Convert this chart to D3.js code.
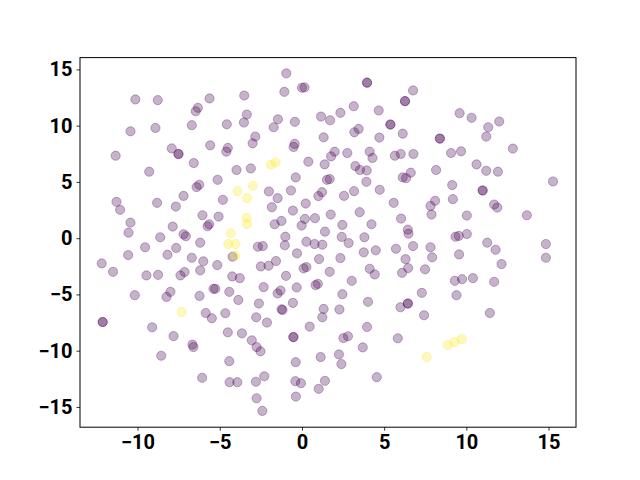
<!DOCTYPE html>
<html><head><meta charset="utf-8">
<script src="https://cdn.jsdelivr.net/npm/d3@7"></script>
<style>body{margin:0;background:#fff}svg{display:block}</style>
</head><body>
<script>
// Class 0 (purple) points: [x, y]
const purplePoints = [
[-10.13,12.33],[-8.77,12.27],[-5.62,12.42],[-3.51,12.68],[-6.33,11.59],[-6.46,11.28],[-3.35,10.99],
[-10.43,9.50],[-8.91,9.80],[-6.70,10.04],[-4.57,10.12],[-3.53,10.28],[-11.33,7.33],[-7.92,7.98],
[-7.51,7.48],[-7.51,7.48],[-5.58,8.25],[-4.51,8.02],[-4.60,7.69],[-3.00,8.43],[-6.58,6.68],[-9.29,5.91],
[-3.98,6.06],[-3.11,6.20],[-5.13,5.19],[-6.25,4.75],[-6.41,4.54],[-11.28,3.23],[-11.06,2.52],[-8.81,3.14],
[-7.67,2.81],[-7.20,3.76],[-4.81,3.41],[-10.43,1.38],[-10.55,0.49],[-7.86,1.03],[-6.05,2.04],[-5.64,1.24],
[-5.74,1.06],[-5.07,1.92],[-7.20,0.35],[-7.06,0.17],[-8.62,0.08],[-6.19,-0.40],[-9.54,-0.81],
[-0.95,14.65],[-1.07,13.01],[0.00,13.37],[0.16,13.40],[3.96,13.82],[3.96,13.82],[6.76,13.13],
[6.27,12.18],[6.27,12.18],[3.15,11.73],[4.67,11.35],[2.34,11.14],[1.16,10.81],[1.71,10.48],[-1.46,10.57],
[-0.43,10.34],[-1.72,9.86],[5.38,10.10],[5.38,10.10],[3.45,9.71],[3.19,9.41],[6.13,9.29],[-2.84,9.03],
[1.32,8.96],[4.71,8.94],[-0.44,8.38],[-0.51,8.11],[1.99,7.69],[1.77,7.27],[2.76,7.57],[4.12,7.69],
[4.29,7.13],[5.65,7.33],[6.01,7.48],[6.78,7.48],[0.39,6.80],[1.38,6.56],[3.25,6.41],[3.53,6.06],
[3.94,6.02],[-0.38,5.40],[1.52,5.19],[1.69,5.25],[3.92,5.01],[6.13,5.40],[6.33,5.34],[6.62,5.82],
[-2.01,4.15],[-1.48,3.56],[-0.67,4.24],[1.00,3.74],[1.22,4.09],[2.56,3.76],[3.17,4.18],[4.73,4.30],
[0.23,3.08],[5.58,3.14],[-1.83,2.76],[-0.55,2.45],[1.75,2.10],[3.51,2.31],[-1.25,1.53],[-1.66,1.24],
[0.18,1.71],[-0.02,1.12],[0.79,1.78],[2.46,1.18],[4.23,1.24],[6.03,1.74],[6.44,0.76],[6.48,0.40],
[-1.01,0.13],[1.40,0.58],[2.42,0.11],[3.80,0.08],
[9.59,11.11],[10.32,10.70],[11.33,9.86],[12.00,10.37],[11.21,9.03],[8.39,8.85],[8.39,8.85],[9.07,7.57],
[9.68,7.72],[12.83,7.96],[10.62,6.56],[11.21,5.99],[11.92,5.91],[8.16,6.06],[15.27,5.04],[9.14,4.72],
[10.99,4.24],[10.99,4.24],[9.18,3.47],[11.69,2.99],[11.88,2.72],[7.82,2.87],[8.10,3.32],[7.88,2.10],
[10.03,2.01],[13.68,2.04],[9.34,0.13],[9.54,0.20],[10.03,0.37],
[-4.22,-1.65],[-12.18,-2.24],[-11.49,-2.99],[-10.57,-1.50],[-8.18,-1.47],[-7.65,-0.87],[-6.70,-1.74],
[-6.00,-2.06],[-5.15,-2.39],[-9.46,-3.31],[-8.75,-3.26],[-7.39,-3.31],[-7.14,-3.01],[-6.19,-2.86],
[-4.24,-3.40],[-3.78,-3.55],[-10.17,-5.07],[-8.00,-4.77],[-8.24,-5.22],[-6.23,-5.13],[-5.38,-4.50],
[-5.27,-4.50],[-4.42,-4.77],[-3.87,-5.49],[-5.85,-6.65],[-5.48,-7.12],[-4.66,-6.67],[-12.12,-7.45],
[-12.12,-7.45],[-9.11,-7.92],[-7.81,-8.70],[-6.66,-9.46],[-6.60,-9.68],[-4.51,-8.37],[-3.65,-8.46],
[-8.56,-10.45],[-4.42,-10.93],[-6.07,-12.41],[-4.40,-12.80],[-3.93,-12.80],
[-2.68,-0.76],[-2.38,-0.70],[-1.04,-0.63],[-0.30,-1.35],[0.27,-0.31],[0.77,-0.52],[1.24,-0.58],
[2.84,-0.43],[3.76,-1.26],[4.49,-1.08],[5.72,-0.94],[6.76,-0.70],[-2.50,-2.51],[-2.03,-2.45],
[-1.58,-2.03],[-0.97,-3.35],[0.10,-2.68],[0.27,-2.57],[1.04,-1.86],[1.69,-2.99],[2.34,-1.77],
[4.12,-2.72],[4.43,-3.22],[6.30,-1.86],[6.46,-2.66],[6.09,-3.08],[-2.33,-4.35],[-1.48,-4.91],
[-1.30,-4.65],[-0.32,-4.38],[0.83,-4.17],[0.97,-4.06],[3.03,-3.79],[-2.62,-5.81],[-1.24,-6.32],
[-1.18,-6.38],[-0.55,-5.75],[1.32,-6.29],[1.24,-7.03],[2.46,-4.98],[2.28,-6.34],[4.02,-5.66],
[6.44,-5.81],[6.44,-5.81],[5.99,-6.14],[-2.78,-7.03],[-2.13,-7.50],[-3.05,-9.08],[-2.76,-9.68],
[-2.52,-10.06],[-0.52,-8.79],[-0.52,-8.79],[0.47,-7.86],[2.52,-8.88],[2.80,-8.72],[3.96,-7.89],
[3.70,-9.71],[5.83,-8.90],[-0.38,-11.02],[1.14,-10.57],[2.25,-10.33],[2.40,-11.19],[-2.29,-12.27],
[-2.80,-12.76],[-0.40,-12.71],[-0.06,-12.89],[1.40,-12.68],[1.02,-13.39],[4.55,-12.35],[-2.76,-14.23],
[-0.37,-14.08],[-2.41,-15.35],
[7.82,-0.81],[7.92,-1.70],[7.49,-2.77],[9.56,-1.44],[11.27,-0.40],[11.78,-1.03],[12.14,-2.30],
[14.84,-0.52],[14.84,-1.74],[9.30,-3.79],[9.74,-3.64],[10.40,-3.55],[11.69,-3.88],[7.29,-4.86],
[9.40,-5.07],[7.43,-6.85],[11.43,-6.65]
];
// Class 1 (yellow) points: [x, y]
const yellowPoints = [
[-3.92,4.18],[-3.34,3.56],[-2.98,4.66],[-3.36,1.80],[-3.34,1.27],[-4.32,0.44],[-4.48,-0.52],[-4.04,-0.52],
[-4.04,-1.56],[-1.89,6.53],[-1.60,6.73],[-7.31,-6.56],[7.59,-10.57],[8.87,-9.50],[9.28,-9.23],[9.73,-8.96]
];
const xTicks = [-10, -5, 0, 5, 10, 15];
const yTicks = [-15, -10, -5, 0, 5, 10, 15];
const xDomain = [-13.5, 16.67];
const yDomain = [-16.8, 16.05];
const colors = ["#440154", "#fde725"];

const W = 640, H = 480;
const m = {left: 80, right: 64, top: 57.6, bottom: 52.8};
const svg = d3.select("body").append("svg").attr("width", W).attr("height", H);
const x = d3.scaleLinear().domain(xDomain).range([m.left, W - m.right]);
const y = d3.scaleLinear().domain(yDomain).range([H - m.bottom, m.top]);
const fmt = d => (d < 0 ? "\u2212" + Math.abs(d) : "" + d);

const g = svg.append("g");
function drawPts(pts, col) {
  g.selectAll(null).data(pts).enter().append("circle")
    .attr("cx", d => x(d[0])).attr("cy", d => y(d[1])).attr("r", 4.6)
    .attr("fill", col).attr("fill-opacity", 0.3)
    .attr("stroke", col).attr("stroke-opacity", 0.3).attr("stroke-width", 1);
}
drawPts(purplePoints, colors[0]);
drawPts(yellowPoints, colors[1]);

svg.append("rect").attr("x", m.left).attr("y", m.top)
  .attr("width", W - m.left - m.right).attr("height", H - m.top - m.bottom)
  .attr("fill", "none").attr("stroke", "#000").attr("stroke-width", 1);

const xa = svg.append("g").attr("transform", `translate(0,${H - m.bottom})`)
  .call(d3.axisBottom(x).tickValues(xTicks).tickFormat(fmt).tickSize(3.5).tickPadding(4));
const ya = svg.append("g").attr("transform", `translate(${m.left},0)`)
  .call(d3.axisLeft(y).tickValues(yTicks).tickFormat(fmt).tickSize(3.5).tickPadding(4));
[xa, ya].forEach(a => {
  a.select(".domain").remove();
  a.selectAll("line").attr("stroke", "#000").attr("stroke-width", 0.8);
  a.selectAll("text").attr("fill", "#000").style("font-family", "Roboto, sans-serif")
   .style("font-weight", "bold").style("font-size", "20px");
});
</script>
</body></html>
